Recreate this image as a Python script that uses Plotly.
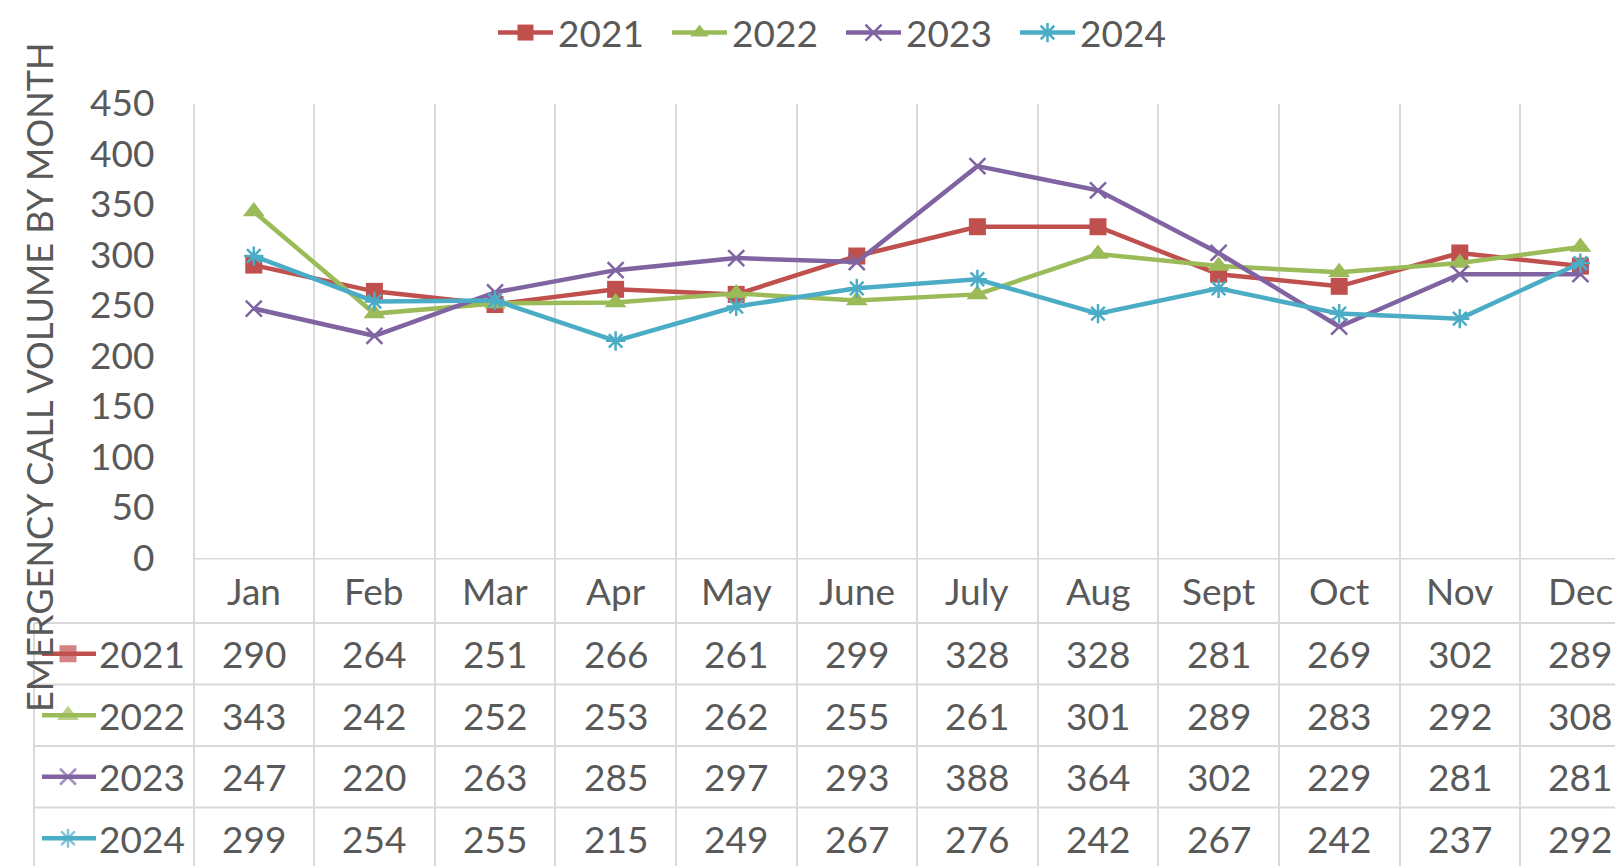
import plotly.graph_objects as go

# ---------------- data ----------------
months = ["Jan", "Feb", "Mar", "Apr", "May", "June", "July", "Aug", "Sept", "Oct", "Nov", "Dec"]
years = ["2021", "2022", "2023", "2024"]
v2021 = [290, 264, 251, 266, 261, 299, 328, 328, 281, 269, 302, 289]
v2022 = [343, 242, 252, 253, 262, 255, 261, 301, 289, 283, 292, 308]
v2023 = [247, 220, 263, 285, 297, 293, 388, 364, 302, 229, 281, 281]
v2024 = [299, 254, 255, 215, 249, 267, 276, 242, 267, 242, 237, 292]
y_ticks = [0, 50, 100, 150, 200, 250, 300, 350, 400, 450]
y_title = "EMERGENCY CALL VOLUME BY MONTH"

# ---------------- styling ----------------
W, H = 1623, 866
OFF = 8                # page body margin (screen px -> figure px)
FONT = "Lato, Carlito, Calibri, 'Open Sans', sans-serif"
TXT = "#595959"
GRID = "#D9D9D9"
FS = 37
PLOT_LEFT = 193.5 - OFF     # first category boundary
COL_W = 120.6               # px per category
PLOT_TOP = 103.5 - OFF
PLOT_BOTTOM = 558.0 - OFF
HEADER_H = 65.0
ROW_H = 61.5
TABLE_LEFT = 34.0 - OFF

styles = {
    "2021": dict(color="#C0504D", symbol="square", size=17, lw=0),
    "2022": dict(color="#9BBB59", symbol="triangle-up", size=19, lw=0),
    "2023": dict(color="#8064A2", symbol="x-thin-open", size=16, lw=2.5),
    "2024": dict(color="#4BACC6", symbol="asterisk-open", size=16, lw=2.5),
}
series = dict(zip(years, [v2021, v2022, v2023, v2024]))


def px_to_x(px):
    return -0.5 + (px - PLOT_LEFT) / COL_W


X_MIN, X_MAX = px_to_x(0), px_to_x(W)
xs = list(range(len(months)))

fig = go.Figure()

for yr in years:
    s = styles[yr]
    fig.add_trace(go.Scatter(
        x=xs, y=series[yr], name=yr, mode="lines+markers",
        line=dict(color=s["color"], width=4.5),
        marker=dict(symbol=s["symbol"], size=s["size"], color=s["color"],
                    line=dict(color=s["color"], width=s["lw"])),
        xaxis="x", yaxis="y", cliponaxis=False,
    ))

# table rows (figure-pixel-from-top coordinates on y2)
header_c = PLOT_BOTTOM + HEADER_H / 2
row_tops = [PLOT_BOTTOM + HEADER_H + i * ROW_H for i in range(len(years))]
row_c = [t + ROW_H / 2 for t in row_tops]

# legend keys inside the table
key_l, key_m, key_r = px_to_x(42 - OFF), px_to_x(68 - OFF), px_to_x(96 - OFF)
for yr, yc in zip(years, row_c):
    s = styles[yr]
    fig.add_trace(go.Scatter(
        x=[key_l, key_m, key_r], y=[yc, yc, yc], mode="lines+markers",
        showlegend=False, hoverinfo="skip",
        line=dict(color=s["color"], width=4.5),
        marker=dict(symbol=s["symbol"], size=[0, s["size"], 0], color=s["color"],
                    line=dict(color=s["color"], width=s["lw"])),
        xaxis="x", yaxis="y2", cliponaxis=False,
    ))

annotations = []
for i, m in enumerate(months):
    annotations.append(dict(x=i, y=header_c, xref="x", yref="y2", text=m, showarrow=False,
                            font=dict(family=FONT, size=FS, color=TXT), xanchor="center", yanchor="middle"))
for yr, yc in zip(years, row_c):
    annotations.append(dict(x=px_to_x(187 - OFF), y=yc, xref="x", yref="y2", text=yr, showarrow=False,
                            font=dict(family=FONT, size=FS, color=TXT), xanchor="right", yanchor="middle"))
    for i, v in enumerate(series[yr]):
        annotations.append(dict(x=i, y=yc, xref="x", yref="y2", text=str(v), showarrow=False,
                                font=dict(family=FONT, size=FS, color=TXT), xanchor="center", yanchor="middle"))
annotations.append(dict(x=(39 - OFF) / W, y=1 - (377 - OFF) / H, xref="paper", yref="paper", text=y_title,
                        textangle=-90, showarrow=False, xanchor="center", yanchor="middle",
                        font=dict(family=FONT, size=36, color=TXT)))

shapes = []
shapes.append(dict(type="line", xref="x", yref="y2", x0=-0.5, x1=X_MAX, y0=PLOT_BOTTOM + 0.5, y1=PLOT_BOTTOM + 0.5,
                   line=dict(color=GRID, width=2)))
for t in row_tops:
    shapes.append(dict(type="line", xref="x", yref="y2", x0=px_to_x(TABLE_LEFT), x1=X_MAX, y0=t, y1=t,
                       line=dict(color=GRID, width=2)))
shapes.append(dict(type="line", xref="x", yref="y2", x0=px_to_x(TABLE_LEFT), x1=px_to_x(TABLE_LEFT),
                   y0=row_tops[0], y1=H, line=dict(color=GRID, width=2)))

fig.update_layout(
    width=W, height=H,
    margin=dict(l=0, r=0, t=0, b=0, autoexpand=False),
    paper_bgcolor="white", plot_bgcolor="white",
    font=dict(family=FONT, size=FS, color=TXT),
    showlegend=True,
    legend=dict(orientation="h", x=(499 - OFF - 6) / W, y=1 + 6 / H, xanchor="left", yanchor="top",
                font=dict(family=FONT, size=FS, color=TXT), itemwidth=55,
                entrywidth=104, entrywidthmode="pixels", bgcolor="rgba(0,0,0,0)",
                tracegroupgap=0, borderwidth=0),
    xaxis=dict(range=[X_MIN, X_MAX], domain=[0, 1], anchor="y2",
               tickvals=[k - 0.5 for k in range(len(months) + 1)],
               showticklabels=False, ticks="", showgrid=True, gridcolor=GRID, gridwidth=2,
               zeroline=False, showline=False),
    yaxis=dict(domain=[(H - PLOT_BOTTOM) / H, (H - PLOT_TOP) / H], range=[0, 450],
               tickvals=y_ticks, showgrid=False, zeroline=False, showline=False,
               anchor="free", position=PLOT_LEFT / W, ticks="", ticklabelstandoff=39,
               tickfont=dict(family=FONT, size=FS, color=TXT)),
    yaxis2=dict(domain=[0, (H - PLOT_BOTTOM) / H], range=[H, PLOT_BOTTOM],
                showgrid=False, zeroline=False, showline=False, showticklabels=False, ticks=""),
    annotations=annotations,
    shapes=shapes,
)

fig.write_html("out.html")
